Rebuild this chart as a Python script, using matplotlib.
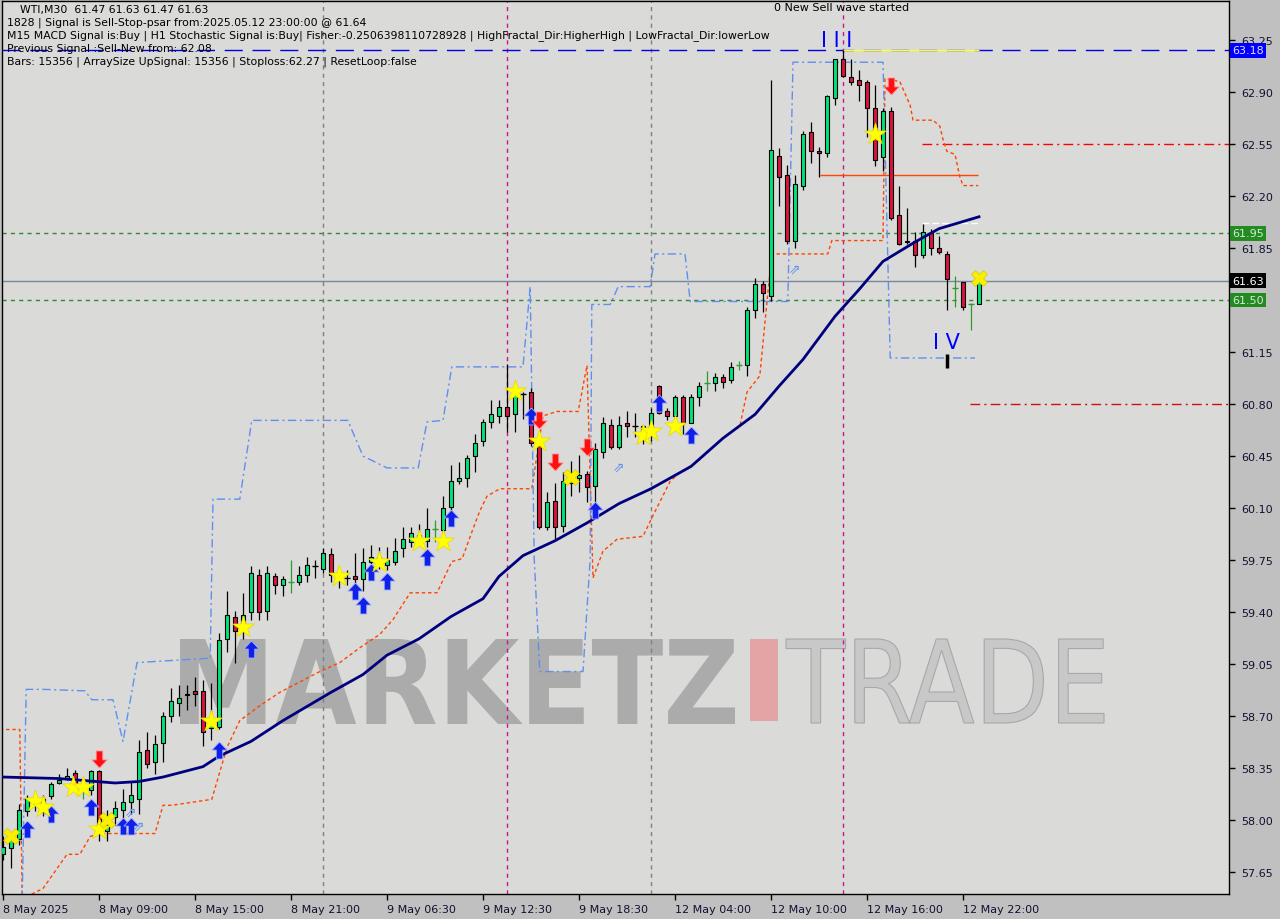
import matplotlib
matplotlib.use("Agg")
import numpy as np
import matplotlib.pyplot as plt
from matplotlib.textpath import TextPath
from matplotlib.font_manager import FontProperties
from matplotlib.patches import PathPatch, Rectangle
from matplotlib.transforms import Affine2D, blended_transform_factory

# WTI M30 candles (index 0 = first visible bar)
opens = [57.77, 57.81, 57.87, 58.06, 58.14, 58.09, 58.16, 58.25, 58.28, 58.32,
         58.20, 58.20, 58.33, 57.93, 58.02, 58.07, 58.12, 58.14, 58.47, 58.39,
         58.52, 58.70, 58.79, 58.84, 58.87, 58.87, 58.62, 58.63, 59.22, 59.37,
         59.30, 59.40, 59.65, 59.41, 59.64, 59.58, 59.60, 59.60, 59.65, 59.71,
         59.69, 59.79, 59.66, 59.63, 59.64, 59.62, 59.74, 59.77, 59.72, 59.74,
         59.83, 59.87, 59.92, 59.88, 59.96, 59.95, 60.11, 60.28, 60.30, 60.45,
         60.55, 60.68, 60.72, 60.78, 60.73, 60.87, 60.88, 60.52, 59.97, 60.15,
         59.98, 60.27, 60.30, 60.33, 60.25, 60.48, 60.66, 60.51, 60.67, 60.65,
         60.65, 60.61, 60.92, 60.75, 60.72, 60.85, 60.67, 60.85, 60.94, 60.94,
         60.98, 60.96, 61.06, 61.06, 61.43, 61.61, 61.53, 62.47, 62.34, 61.90,
         62.27, 62.63, 62.50, 62.49, 62.86, 63.12, 63.00, 62.98, 62.97, 62.79,
         62.46, 62.77, 62.07, 61.89, 61.90, 61.80, 61.95, 61.85, 61.81, 61.58,
         61.62, 61.47, 61.47]
highs = [57.89, 57.91, 58.11, 58.17, 58.17, 58.17, 58.26, 58.31, 58.35, 58.34,
         58.23, 58.34, 58.34, 58.07, 58.13, 58.21, 58.26, 58.54, 58.59, 58.57,
         58.73, 58.89, 58.91, 58.91, 58.96, 58.94, 58.92, 59.26, 59.54, 59.41,
         59.53, 59.71, 59.69, 59.71, 59.66, 59.64, 59.75, 59.71, 59.77, 59.75,
         59.83, 59.83, 59.68, 59.68, 59.80, 59.83, 59.85, 59.84, 59.84, 59.90,
         59.97, 59.97, 59.99, 60.10, 60.02, 60.18, 60.39, 60.41, 60.46, 60.60,
         60.70, 60.83, 60.83, 61.07, 60.88, 60.88, 60.91, 60.55, 60.21, 60.27,
         60.34, 60.42, 60.46, 60.35, 60.54, 60.71, 60.70, 60.72, 60.75, 60.74,
         60.66, 60.77, 60.93, 60.77, 60.86, 60.86, 60.87, 60.95, 61.02, 61.01,
         61.00, 61.08, 61.09, 61.45, 61.65, 61.63, 62.98, 62.52, 62.41, 62.34,
         62.64, 62.70, 62.53, 62.88, 63.12, 63.18, 63.12, 63.05, 62.98, 62.95,
         62.79, 62.80, 62.27, 62.12, 61.96, 62.01, 61.98, 61.93, 61.83, 61.66,
         61.62, 61.48, 61.63]
lows = [57.73, 57.68, 57.83, 58.03, 58.06, 58.03, 58.14, 58.24, 58.27, 58.21,
        58.14, 58.17, 57.86, 57.86, 57.97, 58.01, 58.04, 58.04, 58.35, 58.31,
        58.39, 58.66, 58.70, 58.74, 58.77, 58.50, 58.54, 58.61, 59.13, 59.06,
        59.22, 59.35, 59.35, 59.35, 59.52, 59.51, 59.53, 59.58, 59.60, 59.63,
        59.66, 59.60, 59.56, 59.58, 59.55, 59.54, 59.72, 59.69, 59.68, 59.72,
        59.77, 59.84, 59.85, 59.84, 59.87, 59.91, 60.07, 60.26, 60.24, 60.34,
        60.52, 60.64, 60.67, 60.61, 60.61, 60.70, 60.52, 59.96, 59.95, 59.89,
        59.94, 60.18, 60.21, 60.14, 60.14, 60.44, 60.50, 60.50, 60.58, 60.58,
        60.53, 60.55, 60.73, 60.69, 60.65, 60.60, 60.67, 60.79, 60.89, 60.89,
        60.91, 60.94, 61.03, 60.99, 61.38, 61.42, 61.49, 62.13, 61.88, 61.85,
        62.24, 62.42, 62.33, 62.46, 62.81, 63.00, 62.95, 62.84, 62.60, 62.40,
        62.37, 62.04, 61.87, 61.88, 61.72, 61.78, 61.80, 61.81, 61.43, 61.45,
        61.43, 61.30, 61.47]
closes = [57.82, 57.87, 58.07, 58.15, 58.10, 58.15, 58.24, 58.27, 58.30, 58.23,
          58.20, 58.33, 57.95, 57.97, 58.08, 58.12, 58.17, 58.46, 58.38, 58.51,
          58.70, 58.80, 58.82, 58.85, 58.85, 58.59, 58.66, 59.21, 59.38, 59.27,
          59.38, 59.66, 59.40, 59.66, 59.58, 59.62, 59.60, 59.65, 59.72, 59.71,
          59.80, 59.65, 59.62, 59.63, 59.62, 59.74, 59.77, 59.74, 59.75, 59.81,
          59.89, 59.93, 59.90, 59.96, 59.96, 60.10, 60.28, 60.30, 60.44, 60.54,
          60.68, 60.73, 60.78, 60.72, 60.86, 60.87, 60.54, 59.97, 60.14, 59.97,
          60.28, 60.30, 60.32, 60.24, 60.50, 60.67, 60.51, 60.66, 60.65, 60.65,
          60.61, 60.74, 60.74, 60.72, 60.85, 60.67, 60.85, 60.92, 60.94, 60.98,
          60.95, 61.05, 61.06, 61.43, 61.61, 61.55, 62.51, 62.33, 61.90, 62.28,
          62.62, 62.50, 62.49, 62.87, 63.12, 63.01, 62.97, 62.95, 62.79, 62.44,
          62.77, 62.05, 61.88, 61.90, 61.80, 61.96, 61.85, 61.82, 61.64, 61.58,
          61.45, 61.47, 61.63]
green_doji = [10, 36, 54, 88, 92, 119, 121]

x_label_idx = [0, 12, 24, 36, 48, 60, 72, 84, 96, 108, 120]
x_labels = ["8 May 2025", "8 May 09:00", "8 May 15:00", "8 May 21:00", "9 May 06:30",
            "9 May 12:30", "9 May 18:30", "12 May 04:00", "12 May 10:00",
            "12 May 16:00", "12 May 22:00"]
price_ticks = [57.65, 58.00, 58.35, 58.70, 59.05, 59.40, 59.75, 60.10, 60.45,
               60.80, 61.15, 61.50, 61.85, 62.20, 62.55, 62.90, 63.25]

# moving average (navy)
ma_idx = [0, 7, 14, 17, 20, 25, 27, 31, 35, 41, 45, 48, 52, 56, 60, 62, 65, 69,
          73, 77, 81, 86, 90, 94, 97, 100, 104, 107, 110, 114, 117, 122]
ma_val = [58.29, 58.28, 58.25, 58.26, 58.29, 58.36, 58.43, 58.53, 58.67, 58.86,
          58.98, 59.11, 59.22, 59.37, 59.49, 59.64, 59.78, 59.88, 60.00, 60.13,
          60.23, 60.38, 60.57, 60.73, 60.92, 61.10, 61.39, 61.57, 61.76, 61.89,
          61.98, 62.06]

# psar style stop line (orange red)
sar_idx = [-0.4, 2.1, 2.4, 5, 8, 9.6, 10.9, 12.1, 19, 20, 21.1, 26.1, 28, 29.6,
           32.1, 34.6, 37.1, 39.6, 42.1, 44.6, 47.1, 48.75, 50.9, 54.25, 56.1,
           57.4, 58.75, 59.6, 60.5, 62.1, 66.1, 67.5, 69.25, 71.9, 72.5, 73,
           73.75, 75, 76.75, 80, 81.25, 83.4, 84.6, 86.75, 90, 92.1, 93, 94.6,
           95.5, 96.1, 103.1, 103.6, 110, 110.25, 112.1, 112.5, 113.4, 113.75,
           116.25, 117.1, 117.5, 118, 119, 119.6, 120, 121.9]
sar_val = [58.61, 58.61, 57.47, 57.54, 57.77, 57.77, 57.89, 57.91, 57.91, 58.10,
           58.10, 58.14, 58.49, 58.67, 58.77, 58.86, 58.93, 59.00, 59.06, 59.16,
           59.25, 59.35, 59.53, 59.53, 59.74, 59.76, 59.96, 60.08, 60.18, 60.23,
           60.23, 60.72, 60.75, 60.75, 60.92, 61.06, 59.63, 59.81, 59.89, 59.91,
           60.05, 60.28, 60.34, 60.41, 60.57, 60.65, 60.88, 60.99, 61.49, 61.81,
           61.81, 61.90, 61.90, 62.99, 62.97, 62.92, 62.81, 62.71, 62.71, 62.67,
           62.58, 62.50, 62.48, 62.33, 62.27, 62.27]

# fractal channel (light blue)
ch_idx = [2.4, 2.9, 5, 10.25, 11.1, 13.75, 15, 16.75, 25.9, 26.25, 29.6, 31.1,
          43.1, 45, 48, 51.9, 53, 55, 56.1, 65, 65.9, 66.4, 67.1, 72.5, 73.4,
          73.6, 75.9, 76.9, 80.9, 81.5, 85.25, 85.9, 98.1, 98.75, 110, 110.9, 121.5]
ch_val = [57.47, 58.88, 58.88, 58.87, 58.81, 58.81, 58.53, 59.06, 59.09, 60.16,
          60.16, 60.69, 60.69, 60.45, 60.37, 60.37, 60.68, 60.69, 61.05, 61.05,
          61.59, 59.76, 59.00, 59.00, 59.76, 61.47, 61.47, 61.59, 61.59, 61.81,
          61.81, 61.49, 61.49, 63.10, 63.10, 61.11, 61.11]

star_idx = [4, 5, 8.75, 10, 12, 26, 30, 42, 47, 52, 55, 64, 67, 80, 81, 84, 109]
star_val = [58.13, 58.09, 58.22, 58.22, 57.94, 58.67, 59.30, 59.64, 59.74, 59.88,
            59.88, 60.89, 60.55, 60.59, 60.62, 60.65, 62.62]
cross_idx = [1, 13, 71, 122]
cross_val = [57.89, 58.00, 60.31, 61.65]
up_idx = [3, 6, 11, 15, 16, 27, 31, 44, 45, 46, 48, 53, 56, 66, 74, 82, 86]
up_val = [57.94, 58.04, 58.09, 57.96, 57.96, 58.47, 59.15, 59.54, 59.45, 59.67,
          59.61, 59.77, 60.03, 60.72, 60.09, 60.81, 60.59]
down_idx = [12, 67, 69, 73, 111]
down_val = [58.41, 60.69, 60.41, 60.51, 62.94]
hollow_idx = [16, 17, 77, 99]
hollow_val = [58.06, 57.96, 60.38, 61.71]

W, H = 1280, 920
fig = plt.figure(figsize=(W / 100, H / 100), dpi=100, facecolor="#c0c0c0")
ax = fig.add_axes([2 / W, 25 / H, 1227 / W, 893 / H])
ax.set_facecolor("#dadad8")
ax.set_xlim(-0.125, 153.25)
ax.set_ylim(57.503, 63.512)


def watermark(text, box, weight, fc, ec, lw):
    tp = TextPath((0, 0), text, size=100,
                  prop=FontProperties(family="DejaVu Sans", weight=weight))
    bb = tp.get_extents()
    x0, y0, x1, y1 = box
    tr = (Affine2D().translate(-bb.x0, -bb.y0)
          .scale((x1 - x0) / bb.width / W, (y1 - y0) / bb.height / H)
          .translate(x0 / W, 1 - y1 / H) + fig.transFigure)
    ax.add_patch(PathPatch(tp, transform=tr, fc=fc, ec=ec, lw=lw, zorder=0.5))


watermark("MARKETZ", (180, 640, 735, 725), "bold", "#ababab", "none", 0)
ax.add_patch(Rectangle((750 / W, 1 - 722 / H), 28 / W, 82 / H,
                       transform=fig.transFigure, fc="#e2a4a4", ec="none", zorder=0.5))
watermark("TRADE", (786, 640, 1104, 724), "normal", "#c8c8c8", "#a8a8a8", 0.8)

# reference lines
for xi, c in [(40, "#808080"), (63, "#c8188c"), (81, "#808080"), (105, "#c8188c")]:
    ax.axvline(xi, color=c, lw=1, ls=(0, (3, 3)), zorder=1)
ax.axhline(63.18, color="#0000e0", lw=1, ls=(0, (13, 7)), zorder=1)
ax.hlines(63.18, 105, 122, color="#ffff30", lw=1, zorder=1.2)
ax.hlines(62.55, 114.9, 153.25, color="#ff0000", lw=1, ls=(0, (7, 3, 1.5, 3)), zorder=1)
ax.hlines(62.34, 102.1, 121.9, color="#ff4500", lw=1, zorder=1)
ax.hlines(62.02, 114.9, 122, color="#ffffff", lw=1, ls=(0, (5, 2)), zorder=1)
ax.axhline(61.95, color="#2e8b2e", lw=1, ls=(0, (3, 3)), zorder=1)
ax.axhline(61.50, color="#2e8b2e", lw=1, ls=(0, (3, 3)), zorder=1)
ax.axhline(61.63, color="#778899", lw=1, zorder=1)
ax.hlines(60.80, 120.9, 153.25, color="#d01010", lw=1, ls=(0, (7, 3, 1.5, 3)), zorder=1)

ax.plot(sar_idx, sar_val, color="#ff4500", lw=1, ls=(0, (2.5, 2)), zorder=2)
ax.plot(ch_idx, ch_val, color="#5f8ff0", lw=1, ls=(0, (6, 2.5, 1.5, 2.5)), zorder=2)

# candles
o = np.array(opens); h = np.array(highs); l = np.array(lows); c = np.array(closes)
idx = np.arange(len(o))
wick_col = ["#2e9b2e" if i in green_doji else "black" for i in idx]
ax.vlines(idx, l, h, color=wick_col, lw=0.9, zorder=3)
body = np.abs(c - o)
up = c > o
dn = c < o
ax.bar(idx[up], body[up], bottom=o[up], width=0.62, color="#00e676",
       edgecolor="black", lw=0.8, zorder=4)
ax.bar(idx[dn], body[dn], bottom=c[dn], width=0.62, color="#dc143c",
       edgecolor="black", lw=0.8, zorder=4)
flat = c == o
ax.hlines(o[flat], idx[flat] - 0.35, idx[flat] + 0.35,
          color=[wick_col[i] for i in idx[flat]], lw=1, zorder=4)

ax.plot(ma_idx, ma_val, color="#00007f", lw=2, zorder=5)

# signal markers
up_arrow = [(0, 1), (-0.9, 0.05), (-0.38, 0.05), (-0.38, -1), (0.38, -1),
            (0.38, 0.05), (0.9, 0.05), (0, 1)]
down_arrow = [(x, -y) for x, y in up_arrow]
ax.scatter(up_idx, up_val, marker=up_arrow, s=150, color="#1020e8",
           edgecolors="#9fb0ff", linewidths=0.6, zorder=6)
ax.scatter(down_idx, down_val, marker=down_arrow, s=150, color="#ff1010",
           edgecolors="#ff9090", linewidths=0.6, zorder=6)
ax.scatter(star_idx, star_val, marker="*", s=270, color="#ffff00",
           edgecolors="#e8d800", linewidths=0.5, zorder=6)
ax.scatter(cross_idx, cross_val, marker="X", s=130, color="#f8f000",
           edgecolors="#d8c800", linewidths=0.5, zorder=6)
for xi, yi in zip(hollow_idx, hollow_val):
    ax.text(xi, yi, "\u21d7", color="#5f8ff0", fontsize=10, ha="center",
            va="center", family="DejaVu Sans", zorder=6)

ax.text(104.25, 63.25, "I I I", color="#0000ff", fontsize=15, ha="center",
        va="center", zorder=6)
ax.text(117.9, 61.22, "I V", color="#0000ff", fontsize=15, ha="center",
        va="center", zorder=6)
ax.vlines(118, 61.04, 61.14, color="black", lw=2.5, zorder=6)

# axes styling
for s in ax.spines.values():
    s.set_color("black")
    s.set_linewidth(1)
ax.yaxis.tick_right()
ax.set_yticks(price_ticks)
# 61.50 sits under the green price box, so its plain label is left blank
ax.set_yticklabels(["" if p == 61.50 else f"{p:.2f}" for p in price_ticks])
ax.set_xticks(x_label_idx)
ax.set_xticklabels(x_labels)
for lbl in ax.get_xticklabels():
    lbl.set_horizontalalignment("left")
ax.tick_params(axis="both", direction="out", length=4, width=1, labelsize=8,
               labelcolor="#101030", color="black", pad=3)
ax.tick_params(axis="y", pad=5)

trans = blended_transform_factory(ax.transAxes, ax.transData)
for val, fc, tc in [(63.18, "#0000ff", "#dce0ff"), (61.95, "#228b22", "#d8e8d8"),
                    (61.63, "#000000", "#ffffff"), (61.50, "#228b22", "#d8e8d8")]:
    ax.text(1.0025, val, f"{val:.2f}", transform=trans, ha="left", va="center",
            fontsize=8, color=tc, clip_on=False, zorder=10,
            bbox=dict(boxstyle="square,pad=0.22", fc=fc, ec="none"))

# header text
header = ["WTI,M30  61.47 61.63 61.47 61.63",
          "1828 | Signal is Sell-Stop-psar from:2025.05.12 23:00:00 @ 61.64",
          "M15 MACD Signal is:Buy | H1 Stochastic Signal is:Buy| Fisher:-0.2506398110728928 | HighFractal_Dir:HigherHigh | LowFractal_Dir:lowerLow",
          "Previous Signal :Sell-New from: 62.08",
          "Bars: 15356 | ArraySize UpSignal: 15356 | Stoploss:62.27 | ResetLoop:false"]
for k, line in enumerate(header):
    fig.text((20 if k == 0 else 7) / W, 1 - (10 + 13 * k) / H, line,
             fontsize=7.8, color="black", va="center", ha="left")
fig.text(842 / W, 1 - 8 / H, "0 New Sell wave started", fontsize=8,
         color="black", va="center", ha="center")

fig.savefig("out.png", dpi=100, facecolor=fig.get_facecolor())
